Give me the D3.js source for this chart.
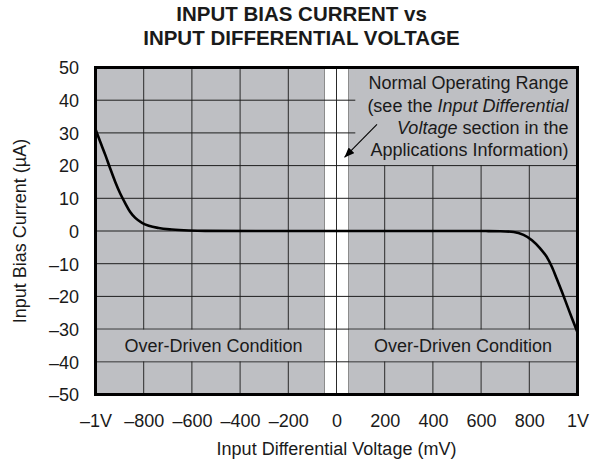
<!DOCTYPE html>
<html>
<head>
<meta charset="utf-8">
<script src="https://cdn.jsdelivr.net/npm/d3@7"></script>
<style>
  body { margin: 0; background: #fff; }
  text { font-family: "Liberation Sans", Arial, Helvetica, sans-serif; fill: #1a1a1a; }
</style>
</head>
<body>
<div id="chart"></div>
<script>
// values
const xTickValues = [-1000, -800, -600, -400, -200, 0, 200, 400, 600, 800, 1000];
const xTickLabels = ["\u20131V", "\u2013800", "\u2013600", "\u2013400", "\u2013200", "0", "200", "400", "600", "800", "1V"];
const yTickValues = [50, 40, 30, 20, 10, 0, -10, -20, -30, -40, -50];
const yTickLabels = ["50", "40", "30", "20", "10", "0", "\u201310", "\u201320", "\u201330", "\u201340", "\u201350"];

// input differential voltage (mV) and input bias current (uA)
const voltageMv = [-1000, -980, -959, -939, -918, -897, -876, -856, -835, -807, -779, -738, -683, -613, -545,
                   0, 560, 620, 680, 735, 776, 811, 845, 873, 894, 914, 935, 956, 977, 1000];
const biasCurrentUa = [31.1, 27.2, 23.2, 19.1, 15.0, 11.4, 8.4, 5.8, 4.0, 2.5, 1.6, 0.9, 0.45, 0.15, 0.03,
                       0, 0, -0.02, -0.08, -0.3, -1.2, -2.8, -5.3, -8.0, -11.0, -14.6, -18.5, -22.6, -26.7, -31.0];

// normal operating range shown as a white band (mV)
const normalRange = [-50, 50];

var margin = {top: 67.5, right: 25.5, bottom: 70.5, left: 95.5},
  width = 603 - margin.left - margin.right,
  height = 465 - margin.top - margin.bottom;

var svg = d3.select("#chart")
  .append("svg")
  .attr("width", 603)
  .attr("height", 465);

var g = svg.append("g")
  .attr("transform", "translate(" + margin.left + "," + margin.top + ")");

var x = d3.scaleLinear().domain([-1000, 1000]).range([0, width]);
var y = d3.scaleLinear().domain([-50, 50]).range([height, 0]);

var gray = "#bebfc3";

// plot background
g.append("rect")
  .attr("width", width)
  .attr("height", height)
  .attr("fill", gray);

// white band for the normal operating range
g.append("rect")
  .attr("x", x(normalRange[0]))
  .attr("width", x(normalRange[1]) - x(normalRange[0]))
  .attr("height", height)
  .attr("fill", "#fff")
  .attr("stroke", "#777")
  .attr("stroke-width", 0.8);

// grid
g.append("g")
  .selectAll("line")
  .data(xTickValues.slice(1, -1))
  .enter().append("line")
  .attr("x1", d => x(d)).attr("x2", d => x(d))
  .attr("y1", 0).attr("y2", height)
  .attr("stroke", "#2a2a2a")
  .attr("stroke-width", 1);

g.append("g")
  .selectAll("line")
  .data(yTickValues.slice(1, -1))
  .enter().append("line")
  .attr("x1", 0).attr("x2", width)
  .attr("y1", d => y(d)).attr("y2", d => y(d))
  .attr("stroke", "#1e1e1e")
  .attr("stroke-width", 1);

// gray patches behind the labels hide the grid there
g.append("rect")
  .attr("x", x(78))
  .attr("y", 0)
  .attr("width", width - x(78))
  .attr("height", y(20) - 0.6)
  .attr("fill", gray);

g.append("rect")
  .attr("x", 0)
  .attr("y", y(-30) + 0.6)
  .attr("width", x(normalRange[0]) - 0.5)
  .attr("height", y(-40) - y(-30) - 1.2)
  .attr("fill", gray);

g.append("rect")
  .attr("x", x(normalRange[1]) + 0.5)
  .attr("y", y(-30) + 0.6)
  .attr("width", width - x(normalRange[1]) - 0.5)
  .attr("height", y(-40) - y(-30) - 1.2)
  .attr("fill", gray);

// the curve
var line = d3.line()
  .x((d, i) => x(voltageMv[i]))
  .y(d => y(d))
  .curve(d3.curveMonotoneX);

g.append("path")
  .datum(biasCurrentUa)
  .attr("d", line)
  .attr("fill", "none")
  .attr("stroke", "#000")
  .attr("stroke-width", 2.6);

// frame
g.append("rect")
  .attr("width", width)
  .attr("height", height)
  .attr("fill", "none")
  .attr("stroke", "#000")
  .attr("stroke-width", 3);

// axes (labels only)
var xAxis = g.append("g")
  .attr("transform", "translate(0," + height + ")")
  .call(d3.axisBottom(x).tickValues(xTickValues).tickFormat((d, i) => xTickLabels[i]).tickSize(0));
xAxis.select(".domain").remove();
xAxis.attr("font-size", 18).attr("font-family", null);
xAxis.selectAll("text").attr("y", 32.5).attr("dy", null).attr("fill", "#1a1a1a");

var yAxis = g.append("g")
  .call(d3.axisLeft(y).tickValues(yTickValues).tickFormat((d, i) => yTickLabels[i]).tickSize(0));
yAxis.select(".domain").remove();
yAxis.attr("font-size", 18).attr("font-family", null);
yAxis.selectAll("text").attr("x", -16.5).attr("dy", "0.35em").attr("fill", "#1a1a1a");

// axis titles
g.append("text")
  .attr("x", width / 2)
  .attr("y", height + 60.5)
  .attr("text-anchor", "middle")
  .style("font-size", "18px")
  .text("Input Differential Voltage (mV)");

g.append("text")
  .attr("transform", "translate(" + (26 - margin.left) + "," + y(0) + ") rotate(-90)")
  .attr("text-anchor", "middle")
  .style("font-size", "18px")
  .text("Input Bias Current (\u00b5A)");

// title
svg.append("text")
  .attr("x", 301.5)
  .attr("y", 20.7)
  .attr("text-anchor", "middle")
  .style("font-size", "20.5px")
  .style("font-weight", "bold")
  .text("INPUT BIAS CURRENT vs");

svg.append("text")
  .attr("x", 301.5)
  .attr("y", 44.7)
  .attr("text-anchor", "middle")
  .style("font-size", "20.5px")
  .style("font-weight", "bold")
  .text("INPUT DIFFERENTIAL VOLTAGE");

// annotation
var note = g.append("text")
  .attr("text-anchor", "end")
  .style("font-size", "18px");
var noteX = 568.5 - margin.left;
note.append("tspan").attr("x", noteX).attr("y", 89.3 - margin.top).text("Normal Operating Range");
var l2 = note.append("tspan").attr("x", noteX).attr("y", 111.5 - margin.top);
l2.append("tspan").text("(see the ");
l2.append("tspan").style("font-style", "italic").text("Input Differential");
var l3 = note.append("tspan").attr("x", noteX).attr("y", 133.5 - margin.top);
l3.append("tspan").style("font-style", "italic").text("Voltage");
l3.append("tspan").text(" section in the");
note.append("tspan").attr("x", noteX).attr("y", 155.5 - margin.top).text("Applications Information)");

// arrow towards the white band
svg.append("defs").append("marker")
  .attr("id", "head")
  .attr("viewBox", "0 0 10 8")
  .attr("refX", 10)
  .attr("refY", 4)
  .attr("markerWidth", 10)
  .attr("markerHeight", 8)
  .attr("markerUnits", "userSpaceOnUse")
  .attr("orient", "auto")
  .append("path")
  .attr("d", "M0,0L10,4L0,8Z")
  .attr("fill", "#000");

g.append("line")
  .attr("x1", x(168)).attr("y1", y(32.6))
  .attr("x2", x(33)).attr("y2", y(22.5))
  .attr("stroke", "#000")
  .attr("stroke-width", 1.1)
  .attr("marker-end", "url(#head)");

// over-driven labels
g.append("text")
  .attr("x", x(-510))
  .attr("y", 351.5 - margin.top)
  .attr("text-anchor", "middle")
  .style("font-size", "18px")
  .text("Over-Driven Condition");

g.append("text")
  .attr("x", x(525))
  .attr("y", 351.5 - margin.top)
  .attr("text-anchor", "middle")
  .style("font-size", "18px")
  .text("Over-Driven Condition");
</script>
</body>
</html>
